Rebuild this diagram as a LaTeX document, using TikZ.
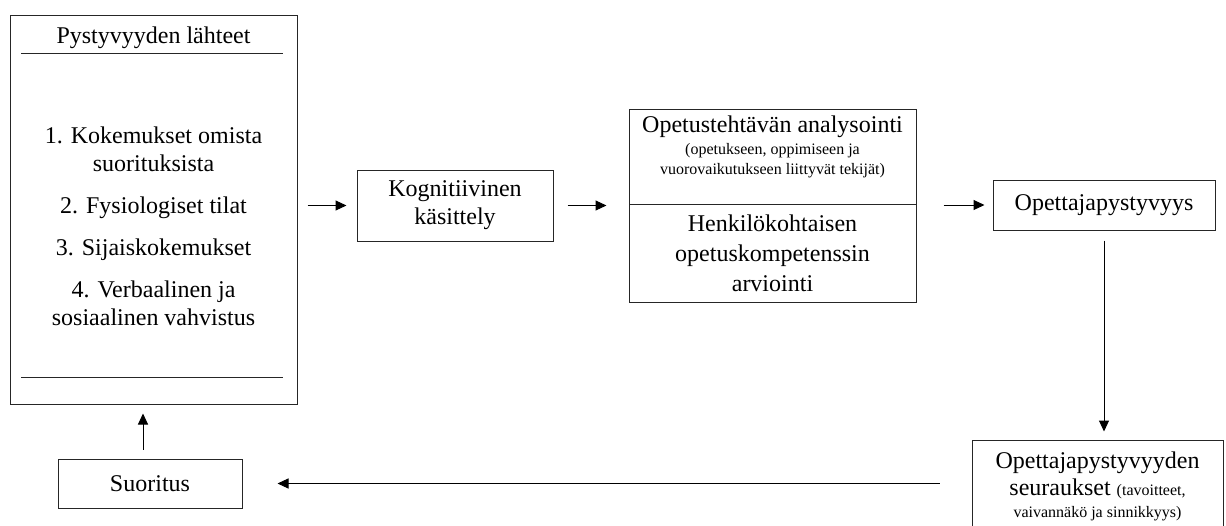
\documentclass[tikz,border=0pt]{standalone}
\usepackage{fontspec}
\setmainfont{Liberation Serif}
\usetikzlibrary{arrows.meta}

\begin{document}
\begin{tikzpicture}[x=0.5pt, y=-0.5pt,
        box/.style={draw=black!85, line width=0.5pt, rectangle, inner sep=0pt, align=center, font=\fontsize{12}{14}\selectfont},
        txt/.style={inner sep=0pt, align=center, font=\fontsize{12}{14}\selectfont},
        small/.style={font=\fontsize{8}{10}\selectfont},
        arr/.style={-{Triangle[length=5.5pt,width=5pt]}, line width=0.5pt}]
    \useasboundingbox (0,0) rectangle (1226,525);
    % sources of efficacy
    \node[box, minimum width=143.5pt, minimum height=194.5pt] (src) at (153.5,209.5) {};
    \node[txt, anchor=base] (srctitle) at (153.5,43) {Pystyvyyden lähteet};
    \draw[line width=0.5pt, black!85] (21,53) -- (283,53);
    \draw[line width=0.5pt, black!85] (21,377) -- (283,377);
    \node[txt] (items) at (153.5,226) {1. Kokemukset omista\\suorituksista\\[7pt]2. Fysiologiset tilat\\[7pt]3. Sijaiskokemukset\\[7pt]4. Verbaalinen ja\\sosiaalinen vahvistus};
    % processing
    \node[box, minimum width=98pt, minimum height=35.5pt] (cog) at (455,205.5) {Kognitiivinen\\käsittely};
    \node[box, minimum width=143.5pt, minimum height=47.5pt] (task) at (772.5,156.5) {};
    \node[txt, anchor=base] (tasktitle) at (772.5,132) {Opetustehtävän analysointi};
    \node[txt, small, anchor=base] (tasknote1) at (772.5,154) {(opetukseen, oppimiseen ja};
    \node[txt, small, anchor=base] (tasknote2) at (772.5,174) {vuorovaikutukseen liittyvät tekijät)};
    \node[box, minimum width=143.5pt, minimum height=49pt, font=\fontsize{12}{15}\selectfont] (pers) at (772.5,253) {Henkilökohtaisen\\opetuskompetenssin\\arviointi};
    % efficacy and consequences
    \node[box, minimum width=111pt, minimum height=25pt] (eff) at (1104,205) {Opettajapystyvyys};
    \node[box, minimum width=125.5pt, minimum height=50pt] (cons) at (1097.5,490) {};
    \node[txt, anchor=base] (constitle) at (1097.5,468) {Opettajapystyvyyden};
    \node[txt, anchor=base] (consnote1) at (1097.5,495) {seuraukset {\fontsize{8}{10}\selectfont(tavoitteet,}};
    \node[txt, small, anchor=base] (consnote2) at (1097.5,517) {vaivannäkö ja sinnikkyys)};
    \node[box, minimum width=92pt, minimum height=24.5pt] (suor) at (150,483.5) {Suoritus};
    % arrows
    \draw[arr, shorten <=5pt, shorten >=5pt] (src.east |- cog.west) -- (cog.west);
    \draw[arr, shorten <=7pt, shorten >=11pt] (cog.east) -- (cog.east -| task.south west);
    \draw[arr, shorten <=13.5pt, shorten >=4pt] (eff.west -| task.south east) -- (eff.west);
    \draw[arr, shorten <=5pt, shorten >=4pt] (eff.south) -- (eff.south |- cons.north);
    \draw[arr, shorten <=16pt, shorten >=17.5pt] (suor.east -| cons.west) -- (suor.east);
    \draw[arr, shorten <=4.5pt, shorten >=4.5pt] ([xshift=-3.5pt]suor.north) -- ([xshift=-3.5pt]suor.north |- src.south);
\end{tikzpicture}
\end{document}
